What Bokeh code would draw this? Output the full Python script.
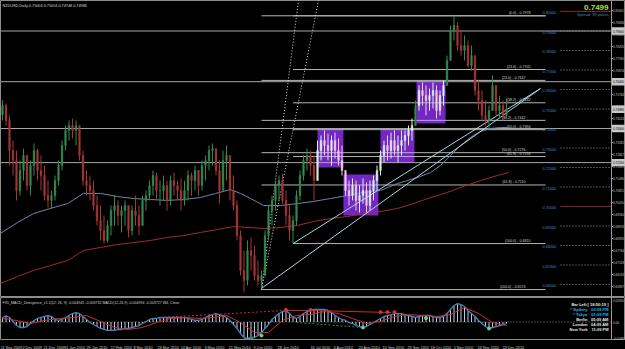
from bokeh.plotting import figure
from bokeh.models import Range1d, Span
from bokeh.layouts import column
from bokeh.embed import file_html
from bokeh.resources import INLINE
from bokeh.core.properties import value

# ---------------- data ----------------
chart_title = "NZDUSD,Daily  0.75004 0.75054 0.74748 0.74986"
indicator_title = "FX5_MACD_Divergence_v1.1(12, 26, 9) -0.004945 -0.003732  MACD(12,26,9) -0.004994 -0.003727  W4, Close"

first_open = 0.7470
highs = [0.7544,0.7528,0.7467,0.7338,0.7287,0.7236,0.7297,0.7262,0.7236,0.7323,
         0.7297,0.7262,0.7210,0.7133,0.7082,0.7159,0.7236,0.7338,0.7415,0.7441,
         0.7451,0.7441,0.7415,0.7287,0.7185,0.7159,0.7133,0.7056,0.7005,0.6954,
         0.6928,0.7005,0.7056,0.7031,0.7005,0.7031,0.6979,0.7005,0.7056,0.7005,
         0.7056,0.7082,0.7133,0.7185,0.7174,0.7133,0.7159,0.7133,0.7159,0.7174,
         0.7133,0.7144,0.7133,0.7185,0.7174,0.7210,0.7185,0.7236,0.7262,0.7313,
         0.7323,0.7287,0.7236,0.7287,0.7313,0.7236,0.7159,0.7031,0.6877,0.6774,
         0.6826,0.6841,0.6800,0.6723,0.6672,0.6877,0.7005,0.7056,0.7133,0.7159,
         0.7169,0.7082,0.7005,0.6954,0.7082,0.7185,0.7262,0.7297,0.7287,0.7262,
         0.7338,0.7364,0.7390,0.7374,0.7364,0.7379,0.7349,0.7313,0.7185,0.7133,
         0.7144,0.7133,0.7108,0.7144,0.7123,0.7133,0.7159,0.7210,0.7287,0.7338,
         0.7364,0.7379,0.7390,0.7364,0.7390,0.7390,0.7415,0.7451,0.7544,0.7621,
         0.7636,0.7621,0.7605,0.7636,0.7621,0.7595,0.7646,0.7774,0.7928,0.7979,
         0.7944,0.7903,0.7877,0.7851,0.7826,0.7723,0.7646,0.7595,0.7544,0.7518,
         0.7672,0.7621,0.7569,0.7544,0.7554]
lows = [0.7441,0.7415,0.7210,0.7159,0.7031,0.7056,0.7133,0.7082,0.7056,0.7159,
        0.7133,0.7082,0.7031,0.6995,0.6990,0.7031,0.7108,0.7185,0.7287,0.7338,
        0.7349,0.7313,0.7236,0.7108,0.7056,0.7031,0.6979,0.6903,0.6826,0.6810,
        0.6815,0.6851,0.6903,0.6903,0.6867,0.6903,0.6841,0.6851,0.6903,0.6851,
        0.6903,0.6979,0.7031,0.7056,0.7031,0.7005,0.7031,0.6979,0.7005,0.7056,
        0.7031,0.6979,0.7005,0.7031,0.7056,0.7082,0.7056,0.7082,0.7133,0.7185,
        0.7210,0.7159,0.7015,0.7108,0.7133,0.7031,0.6979,0.6826,0.6646,0.6559,
        0.6595,0.6672,0.6621,0.6595,0.6580,0.6646,0.6826,0.6903,0.6979,0.7031,
        0.7015,0.6903,0.6826,0.6810,0.6903,0.7031,0.7133,0.7185,0.7159,0.7031,
        0.7133,0.7236,0.7262,0.7236,0.7210,0.7246,0.7210,0.7159,0.7056,0.7005,
        0.7031,0.6979,0.6969,0.7015,0.6969,0.6979,0.7031,0.7082,0.7159,0.7226,
        0.7236,0.7246,0.7262,0.7226,0.7262,0.7287,0.7313,0.7338,0.7415,0.7492,
        0.7518,0.7467,0.7492,0.7503,0.7451,0.7467,0.7518,0.7621,0.7749,0.7851,
        0.7800,0.7774,0.7749,0.7713,0.7697,0.7569,0.7492,0.7441,0.7415,0.7400,
        0.7492,0.7467,0.7451,0.7441,0.7467]
closes = [0.7518,0.7441,0.7287,0.7236,0.7082,0.7185,0.7262,0.7108,0.7210,0.7287,
          0.7185,0.7159,0.7056,0.7031,0.7056,0.7133,0.7210,0.7313,0.7390,0.7415,
          0.7390,0.7415,0.7262,0.7133,0.7108,0.7082,0.7005,0.6928,0.6877,0.6826,
          0.6903,0.6979,0.7005,0.6954,0.6979,0.7005,0.6877,0.6979,0.6954,0.6903,
          0.7031,0.7056,0.7108,0.7159,0.7082,0.7082,0.7108,0.7031,0.7133,0.7108,
          0.7082,0.7031,0.7082,0.7159,0.7133,0.7185,0.7108,0.7210,0.7236,0.7287,
          0.7297,0.7185,0.7082,0.7236,0.7262,0.7082,0.7005,0.6851,0.6672,0.6621,
          0.6774,0.6749,0.6646,0.6621,0.6646,0.6851,0.6979,0.7031,0.7108,0.7133,
          0.7031,0.6954,0.6877,0.6928,0.7056,0.7159,0.7236,0.7262,0.7210,0.7133,
          0.7287,0.7338,0.7313,0.7287,0.7338,0.7287,0.7236,0.7185,0.7082,0.7056,
          0.7108,0.7031,0.7056,0.7082,0.7005,0.7082,0.7133,0.7185,0.7262,0.7313,
          0.7287,0.7338,0.7287,0.7313,0.7338,0.7364,0.7390,0.7415,0.7518,0.7595,
          0.7569,0.7544,0.7569,0.7595,0.7492,0.7569,0.7621,0.7749,0.7903,0.7928,
          0.7826,0.7800,0.7826,0.7723,0.7774,0.7595,0.7544,0.7467,0.7441,0.7492,
          0.7621,0.7492,0.7518,0.7467,0.7499]

ma_blue_bar = [-0.6,4.3,8.9,13.7,18.6,23.1,28.0,32.9,37.4,42.3,47.1,51.7,56.6,60.9,65.1,68.0,70.9,
               74.6,79.4,84.3,88.9,93.7,98.6,103.1,108.0,112.9,118.6,122.3,125.1,128.0,130.9,133.7,
               136.6,139.4,142.3,144.6]
ma_blue = [0.6862,0.6918,0.6964,0.6990,0.7015,0.7067,0.7067,0.7051,0.7041,0.7036,0.7031,0.7036,
           0.7046,0.7067,0.7087,0.7067,0.7041,0.7005,0.7005,0.7015,0.7026,0.7041,0.7056,0.7072,
           0.7082,0.7118,0.7149,0.7174,0.7210,0.7262,0.7313,0.7354,0.7385,0.7400,0.7405,0.7405]
ma_red_bar = [-0.6,4.3,8.9,13.7,18.6,23.1,28.0,32.9,37.4,42.3,47.1,51.7,56.6,61.4,66.0,70.9,74.6,
              79.4,84.3,88.9,93.7,98.6,103.1,108.0,112.9,117.4,122.3,127.1,131.7,136.6,141.4,144.6]
ma_red = [0.6605,0.6641,0.6672,0.6697,0.6723,0.6774,0.6790,0.6805,0.6815,0.6826,0.6841,0.6851,
          0.6867,0.6882,0.6897,0.6892,0.6887,0.6892,0.6903,0.6923,0.6938,0.6949,0.6964,0.6974,
          0.6990,0.7015,0.7046,0.7072,0.7103,0.7133,0.7159,0.7174]

fib_high, fib_high_bar = 0.7978, 129
fib_a_low, fib_a_bar = 0.6574, 74
fib_b_low, fib_b_bar = 0.6810, 83
fib_levels = [0.0, 23.6, 38.2, 50.0, 61.8, 100.0]

h_lines = [0.7900, 0.7640, 0.7400, 0.7225]
round_levels = [0.80, 0.79, 0.78, 0.77, 0.76, 0.75, 0.74, 0.73, 0.72, 0.71, 0.70, 0.69, 0.68, 0.67, 0.66]
price_ticks = [0.80051, 0.79436, 0.78820, 0.78205, 0.77590, 0.76974, 0.76359, 0.75744, 0.75128,
               0.74513, 0.73898, 0.73282, 0.72667, 0.72051, 0.71436, 0.70821, 0.70205, 0.69590,
               0.68974, 0.68359, 0.67744, 0.67128, 0.66513, 0.65897]
current_price = 0.74986
spread_text = "Spread: 39 points."

box_start = [90.0, 97.4, 108.0, 118.3]
box_end = [97.4, 107.4, 117.7, 126.6]
box_top = [0.7400, 0.7164, 0.7400, 0.7646]
box_bottom = [0.7200, 0.6954, 0.7226, 0.7426]

trend_start_bar = [74, 83]
trend_start_price = [0.6580, 0.6810]
trend_end_bar = [153.7, 153.7]
trend_end_price = [0.7605, 0.7605]

macd = [0.0041,0.0055,0.0041,0.0005,-0.0032,-0.0050,-0.0050,-0.0041,-0.0014,0.0014,
        0.0032,0.0041,0.0050,0.0059,0.0050,0.0023,0.0014,0.0023,0.0041,0.0059,
        0.0077,0.0086,0.0077,0.0050,0.0023,-0.0005,-0.0023,-0.0041,-0.0059,-0.0068,
        -0.0077,-0.0077,-0.0077,-0.0068,-0.0068,-0.0059,-0.0059,-0.0050,-0.0041,-0.0032,
        -0.0014,0.0005,0.0023,0.0032,0.0032,0.0041,0.0041,0.0041,0.0041,0.0041,
        0.0041,0.0041,0.0041,0.0032,0.0023,0.0014,0.0014,0.0023,0.0041,0.0059,
        0.0068,0.0077,0.0068,0.0059,0.0041,0.0014,-0.0023,-0.0059,-0.0105,-0.0141,
        -0.0150,-0.0150,-0.0141,-0.0123,-0.0095,-0.0059,-0.0023,0.0023,0.0050,0.0077,
        0.0095,0.0105,0.0077,0.0041,0.0032,0.0050,0.0077,0.0095,0.0105,0.0114,
        0.0114,0.0114,0.0114,0.0105,0.0086,0.0059,0.0041,0.0023,0.0014,-0.0005,
        -0.0014,-0.0032,-0.0041,-0.0050,-0.0041,-0.0023,-0.0005,0.0014,0.0032,0.0050,
        0.0059,0.0068,0.0077,0.0077,0.0077,0.0068,0.0059,0.0050,0.0041,0.0050,
        0.0059,0.0059,0.0059,0.0050,0.0041,0.0041,0.0050,0.0077,0.0114,0.0150,
        0.0168,0.0159,0.0141,0.0105,0.0077,0.0050,0.0014,-0.0014,-0.0041,-0.0059,
        -0.0050,-0.0041,-0.0032,-0.0023,-0.0014]
signal_bar = [0,4,8,12,16,20,24,28,32,36,40,44,48,52,56,60,64,68,72,76,80,84,88,92,96,100,
              104,108,112,116,120,124,128,132,136,140,144]
signal = [0.0032,0.0014,-0.0014,0.0014,0.0032,0.0041,0.0059,0.0005,-0.0050,-0.0068,-0.0050,
          -0.0005,0.0032,0.0041,0.0032,0.0041,0.0059,-0.0005,-0.0095,-0.0095,0.0014,0.0059,
          0.0068,0.0095,0.0077,0.0032,-0.0014,0.0005,0.0050,0.0068,0.0059,0.0050,0.0068,
          0.0132,0.0077,-0.0005,-0.0032]
macd_top_label, macd_bottom_label = "0.02050", "-0.01680"

date_labels = ["11 Nov 2009", "2 Dec 2009", "21 Dec 2009", "11 Jan 2010", "29 Jan 2010",
               "17 Feb 2010", "8 Mar 2010", "26 Mar 2010", "14 Apr 2010", "3 May 2010",
               "21 May 2010", "9 Jun 2010", "28 Jun 2010", "16 Jul 2010", "4 Aug 2010",
               "23 Aug 2010", "10 Sep 2010", "29 Sep 2010", "18 Oct 2010", "5 Nov 2010",
               "24 Nov 2010", "13 Dec 2010"]
date_bar = [-0.5, 5.7, 11.7, 17.7, 24.0, 30.9, 37.4, 44.3, 50.9, 57.7, 64.6, 71.7, 78.6,
            88.0, 94.6, 101.7, 108.6, 115.7, 122.3, 128.9, 135.7, 142.9]

bar_left_text = "Bar Left [ 18:50:19 ]"
clock_names = ["* Sydney", "* Tokyo", "Berlin", "London", "New York"]
clock_times = ["03:09 PM", "01:09 PM", "05:09 AM", "04:09 AM", "11:09 PM"]
clock_colors = ["#22B8F0", "#22B8F0", "#E8E8E8", "#E8E8E8", "#E8E8E8"]

# ---------------- layout helpers ----------------
W = 625
PXB = 3.5                      # pixels per bar
def bx(px):                    # screen x -> bar coordinate
    return (px - 2) / PXB
def py(ypx):                   # screen y -> price (main panel)
    return 0.80564 - 0.00051282 * ypx
def my(ypx):                   # screen y -> indicator value
    return (321.5 - ypx) / 1100.0

FONT = value("Liberation Sans")
xr = Range1d(bx(0), bx(W))

def panel(h, yr):
    p = figure(width=W, height=h, x_range=xr, y_range=yr, output_backend="svg",
               toolbar_location=None, x_axis_location=None, y_axis_location=None,
               min_border=0, min_border_left=0, min_border_right=0,
               min_border_top=0, min_border_bottom=0)
    p.grid.visible = False
    p.background_fill_color = "black"
    p.border_fill_color = "black"
    p.outline_line_color = "#8C8C8C"
    p.outline_line_width = 1
    return p

# ---------------- main panel ----------------
main = panel(297, Range1d(py(297), py(0)))
n = len(closes)
xs = list(range(n))
opens = [first_open] + closes[:-1]
up = [c >= o for o, c in zip(opens, closes)]
in_box = [any(s <= i <= e for s, e in zip(box_start, box_end)) for i in xs]

main.quad(left=box_start, right=box_end, top=box_top, bottom=box_bottom,
          fill_color="#7226C4", line_color=None)

# full-width horizontal lines
for h in h_lines:
    main.segment(x0=bx(0), y0=h, x1=bx(611), y1=h, line_color="#A8A8A8", line_width=1)

# fibonacci levels
for lo, start in ((fib_a_low, fib_a_bar), (fib_b_low, fib_b_bar)):
    lv = [fib_high - l / 100.0 * (fib_high - lo) for l in fib_levels]
    main.segment(x0=[start] * len(lv), y0=lv, x1=[bx(545)] * len(lv), y1=lv,
                 line_color="#B4B4B4", line_width=1)
    right = bx(525) if start == fib_a_bar else bx(530)
    k0 = 1 if start == fib_a_bar else 0
    main.text(x=[right] * (len(lv) - k0), y=[v + 0.0004 for v in lv[k0:]],
              text=[f"({l:.1f}) - {v:.4f}" for l, v in zip(fib_levels[k0:], lv[k0:])],
              text_font=FONT, text_font_size="3.6px", text_color="#D0D0D0",
              text_align="right", text_baseline="bottom")

# round number levels
for r in round_levels:
    big = abs(round(r * 100) % 10) == 0
    main.segment(x0=bx(560), y0=r, x1=bx(611), y1=r,
                 line_color="#8B2323" if big else "#9A9A9A",
                 line_dash="solid" if big else "1 2", line_width=1)
main.text(x=[bx(542)] * len(round_levels), y=round_levels,
          text=[f"{r:.5f}" for r in round_levels], text_font=FONT, text_font_size="3.8px",
          text_color="#3C8CD2", text_align="left", text_baseline="top")

# moving averages
main.line(ma_blue_bar, ma_blue, line_color="#6E86A8", line_width=1)
main.line(ma_red_bar, ma_red, line_color="#A52A2A", line_width=1)

# trend lines and dotted rays
main.segment(x0=trend_start_bar, y0=trend_start_price, x1=trend_end_bar, y1=trend_end_price,
             line_color="#A8D8E0", line_width=1)
main.segment(x0=[fib_a_bar, fib_a_bar], y0=[fib_a_low, fib_a_low], x1=[bx(298), bx(318)],
             y1=[py(0), py(0)], line_color="#E0E0E0", line_dash="1 2", line_width=1)

# candles
cu, cd = "#358A52", "#A83636"
colors = []
for u, b in zip(up, in_box):
    if b:
        colors.append("#D9F2E0" if u else "#F2C8E6")
    else:
        colors.append(cu if u else cd)
main.segment(x0=xs, y0=lows, x1=xs, y1=highs, line_color=colors, line_width=1)
main.vbar(x=xs, width=0.45, top=[max(o, c) for o, c in zip(opens, closes)],
          bottom=[min(o, c) for o, c in zip(opens, closes)], fill_color=colors, line_color=colors,
          line_width=0.5)

# price scale
main.add_layout(Span(location=bx(611), dimension="height", line_color="#9A9A9A", line_width=1))
main.segment(x0=[bx(611)] * len(price_ticks), y0=price_ticks, x1=[bx(612.5)] * len(price_ticks),
             y1=price_ticks, line_color="#9A9A9A")
main.text(x=[bx(612.6)] * len(price_ticks), y=price_ticks, text=[f"{t:.5f}" for t in price_ticks],
          text_font=FONT, text_font_size="3px", text_color="#C8C8C8", text_baseline="middle")
boxed = h_lines + [current_price]
main.quad(left=[bx(611.5)] * len(boxed), right=[bx(626)] * len(boxed),
          top=[b + 0.0019 for b in boxed], bottom=[b - 0.0019 for b in boxed],
          fill_color="#C8C8C8", line_color=None)
main.text(x=[bx(612.6)] * len(boxed), y=boxed, text=[f"{b:.5f}" for b in boxed],
          text_font=FONT, text_font_size="3px", text_color="black", text_baseline="middle")

# titles
main.text(x=[bx(2)], y=[py(5)], text=[chart_title], text_font=FONT, text_font_size="3.8px",
          text_color="#D8D8D8", text_baseline="middle")
main.text(x=[bx(608)], y=[py(7)], text=[f"{current_price:.4f}"], text_font=FONT,
          text_font_size="8px", text_font_style="bold", text_color="#A8E040",
          text_align="right", text_baseline="middle")
main.text(x=[bx(609)], y=[py(14)], text=[spread_text], text_font=FONT, text_font_size="4px",
          text_color="#4A86C0", text_align="right", text_baseline="middle")

# ---------------- indicator panel ----------------
ind = panel(43, Range1d(my(340), my(297)))
ind.segment(x0=bx(0), y0=0, x1=bx(611), y1=0, line_color="#8A8A8A", line_dash="1 2")
ind.segment(x0=xs, y0=[0] * n, x1=xs, y1=macd, line_color="#B8C8E0", line_width=1)
ind.line(xs, macd, line_color="#4A7FB8", line_width=1.3)
ind.line(signal_bar, signal, line_color="#C83030", line_width=1)
# divergence marks
ind.segment(x0=[45, 81, 88], y0=[0.0041, 0.0105, 0.0105], x1=[81, 88, 111], y1=[0.0105, 0.0105, 0.0086],
            line_color="#D02828", line_dash=["2 2", "solid", "solid"], line_width=1)
ind.scatter(x=[81, 88, 108, 110, 112], y=[0.0110, 0.0110, 0.0090, 0.0090, 0.0090], size=3,
            color="#E03030")
ind.segment(x0=[84, 69], y0=[-0.0005, -0.0150], x1=[103, 74], y1=[-0.0050, -0.0123],
            line_color="#2E8B3A", line_dash="2 2", line_width=1)
ind.scatter(x=[103, 74, 139, 121], y=[-0.0050, -0.0123, -0.0059, 0.0035], size=3, color="#70D090")
ind.add_layout(Span(location=bx(611), dimension="height", line_color="#9A9A9A", line_width=1))
ind.text(x=[bx(2)], y=[my(302)], text=[indicator_title], text_font=FONT, text_font_size="3.6px",
         text_color="#D0D0D0", text_baseline="middle")
ind.text(x=[bx(612.6)] * 3, y=[my(299.5), 0, my(337.5)], text=[macd_top_label, "0.00", macd_bottom_label],
         text_font=FONT, text_font_size="3px", text_color="#C8C8C8", text_baseline="middle")
ind.text(x=[bx(608)], y=[my(304)], text=[bar_left_text], text_font=FONT, text_font_size="4px",
         text_font_style="bold", text_color="#E8E8E8", text_align="right", text_baseline="middle")
rows = [my(309 + 5 * k) for k in range(len(clock_names))]
ind.text(x=[bx(587)] * len(rows), y=rows, text=clock_names, text_font=FONT, text_font_size="4px",
         text_font_style="bold", text_color=clock_colors, text_align="right", text_baseline="middle")
ind.text(x=[bx(608)] * len(rows), y=rows, text=clock_times, text_font=FONT, text_font_size="4px",
         text_font_style="bold", text_color=clock_colors, text_align="right", text_baseline="middle")

# ---------------- date strip ----------------
dates = panel(9, Range1d(0, 1))
dates.outline_line_color = None
dates.text(x=date_bar, y=[0.55] * len(date_bar), text=date_labels, text_font=FONT,
           text_font_size="3.8px", text_color="#C8C8C8", text_align="left", text_baseline="middle")

p = column(main, ind, dates, spacing=0)
p.background = "black"
open("out.html", "w").write(file_html(p, INLINE))
